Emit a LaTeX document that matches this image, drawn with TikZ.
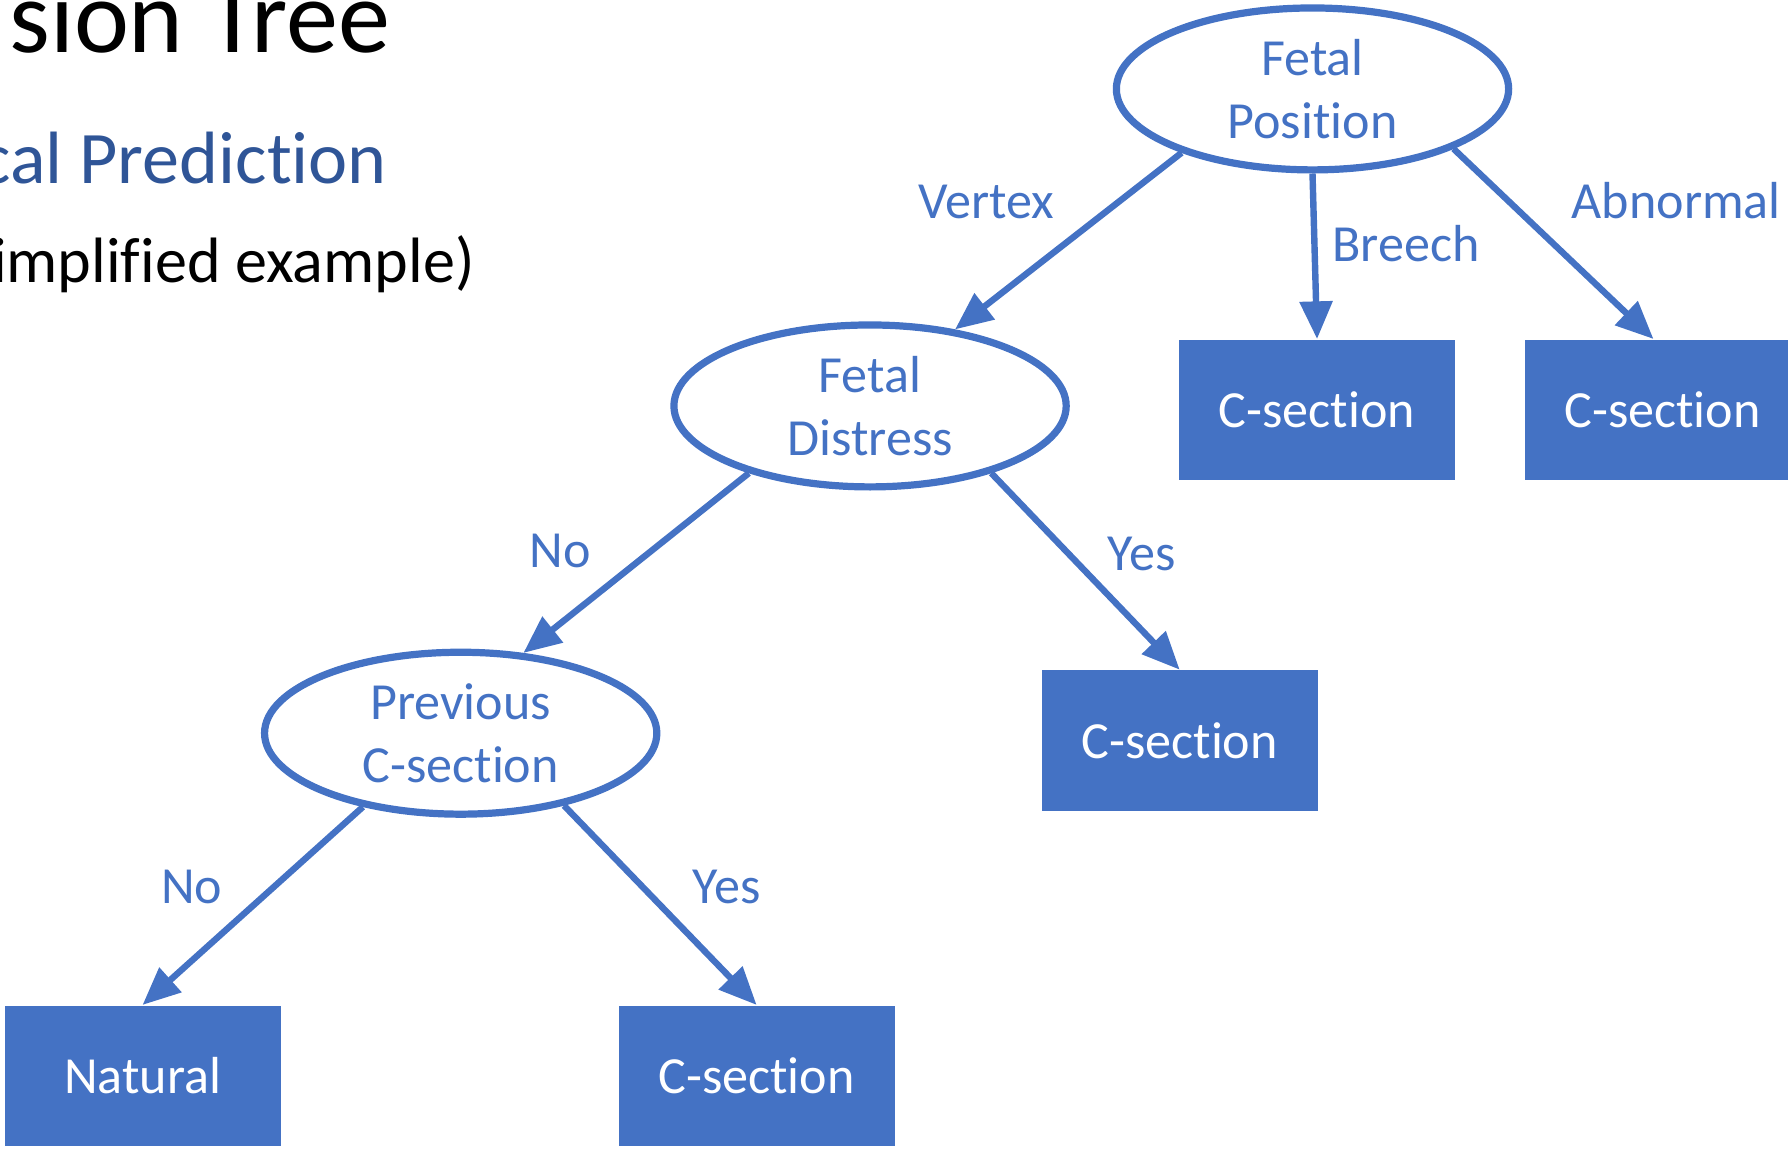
\documentclass[tikz,border=0pt]{standalone}
\usepackage{fontspec}
\setmainfont{Carlito}[Ligatures=NoCommon]
\usetikzlibrary{shapes.geometric,arrows.meta}
\definecolor{nodeblue}{HTML}{4472C4}
\definecolor{titleblue}{HTML}{2F5597}
\begin{document}
\begin{tikzpicture}[
        test/.style={draw=nodeblue, ellipse, line width=1.8pt, minimum width=3.44cm, minimum height=1.42cm, inner sep=0pt, text=nodeblue, align=center, font=\fontsize{13}{15.6}\selectfont},
        leaf/.style={rectangle, fill=nodeblue, minimum width=2.42cm, minimum height=1.23cm, text=white, font=\fontsize{13}{15.6}\selectfont},
        branch/.style={text=nodeblue, anchor=base, inner sep=0pt, font=\fontsize{13}{15.6}\selectfont},
        arrow/.style={draw=nodeblue, line width=1.6pt, -{Triangle[length=3.3mm, width=2.8mm]}}
    ]
        \useasboundingbox (0, 0) rectangle (15.68, 10.08);
        \clip (0, 0) rectangle (15.68, 10.08);

        \node[anchor=base east, inner sep=0pt, font=\fontsize{26}{31}\selectfont] (title) at (3.43, 9.615) {sion Tree};
        \node[anchor=base east, inner sep=0pt, text=titleblue, font=\fontsize{18.5}{22}\selectfont] (subtitle) at (3.40, 8.47) {cal Prediction};
        \node[anchor=base east, inner sep=0pt, font=\fontsize{16}{19}\selectfont] (note) at (4.17, 7.60) {implified example)};

        \node[test] (position) at (11.51, 9.30) {Fetal\\Position};
        \node[test] (distress) at (7.63, 6.52) {Fetal\\Distress};
        \node[test] (previous) at (4.04, 3.65) {Previous\\C-section};

        \node[leaf] (breech) at (11.55, 6.485) {C-section};
        \node[leaf] (abnormal) at (14.58, 6.485) {C-section};
        \node[leaf] (distressyes) at (10.345, 3.585) {C-section};
        \node[leaf] (natural) at (1.25, 0.645) {Natural};
        \node[leaf] (previousyes) at (6.635, 0.645) {C-section};

        \draw[arrow] (position.206) -- (distress.42);
        \draw[arrow] (position.south) -- (breech.north);
        \draw[arrow] (position.337) -- ([xshift=-0.08cm]abnormal.north);
        \draw[arrow] (distress.209) -- (previous.52);
        \draw[arrow] (distress.331) -- (distressyes.north);
        \draw[arrow] (previous.217) -- (natural.north);
        \draw[arrow] (previous.325) -- (previousyes.north);

        \node[branch] (vertexlabel) at (8.65, 8.16) {Vertex};
        \node[branch] (breechlabel) at (12.33, 7.79) {Breech};
        \node[branch] (abnormallabel) at (14.70, 8.16) {Abnormal};
        \node[branch] (nolabel) at (4.91, 5.10) {No};
        \node[branch] (yeslabel) at (10.01, 5.08) {Yes};
        \node[branch] (nolabel2) at (1.68, 2.16) {No};
        \node[branch] (yeslabel2) at (6.37, 2.16) {Yes};
    \end{tikzpicture}
\end{document}
